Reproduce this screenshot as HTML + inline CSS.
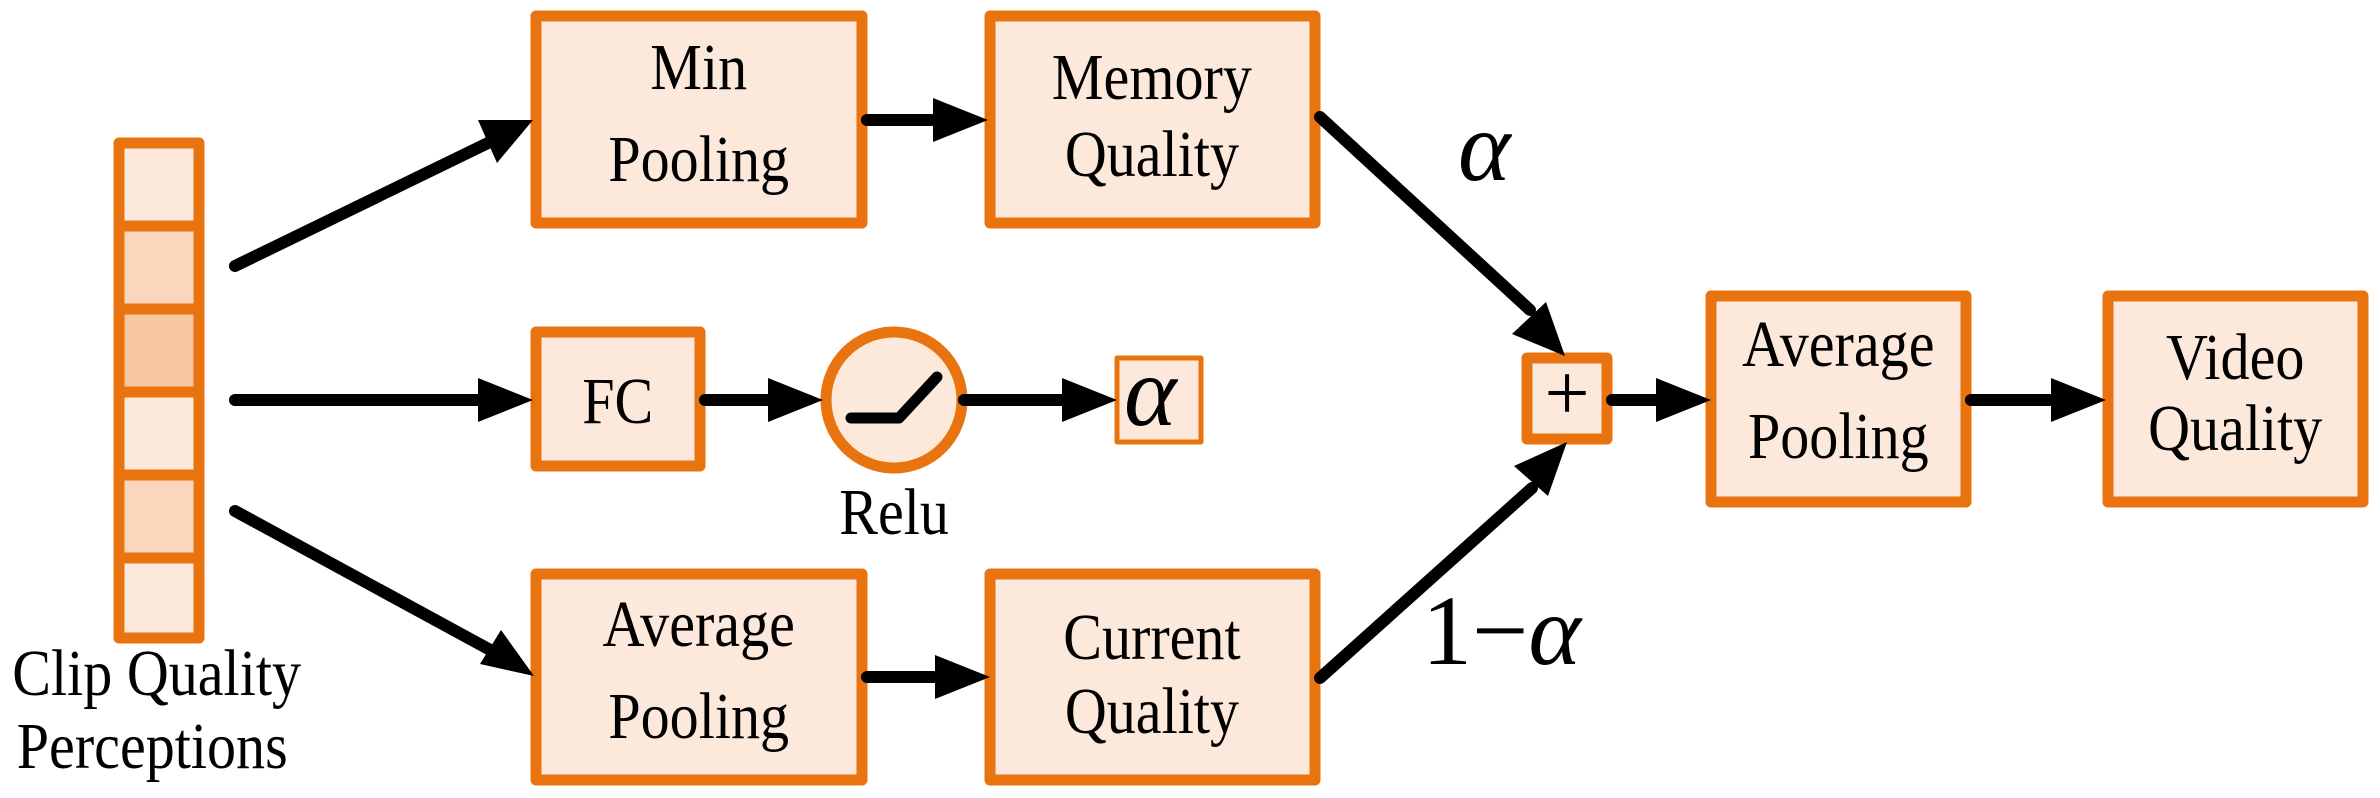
<!DOCTYPE html>
<html><head><meta charset="utf-8"><style>
html,body{margin:0;padding:0;background:#fff;width:2380px;height:798px;overflow:hidden}
svg{display:block}
text{font-family:"Liberation Serif","Times New Roman",serif;fill:#000}
</style></head><body>
<svg width="2380" height="798" viewBox="0 0 2380 798" xmlns="http://www.w3.org/2000/svg">
<g stroke="#E8730F" stroke-width="11" stroke-linejoin="round">
<rect x="119" y="143" width="80" height="83" fill="#FCE9DB"/>
<rect x="119" y="226" width="80" height="83" fill="#FAD7BC"/>
<rect x="119" y="309" width="80" height="83" fill="#F7C59E"/>
<rect x="119" y="392" width="80" height="83" fill="#FCE9DB"/>
<rect x="119" y="475" width="80" height="83" fill="#FAD7BC"/>
<rect x="119" y="558" width="80" height="80" fill="#FCE9DB"/>
<rect x="536" y="16" width="326" height="207" fill="#FCE9DB"/>
<rect x="990" y="16" width="325" height="207" fill="#FCE9DB"/>
<rect x="536" y="332" width="164" height="134" fill="#FCE9DB"/>
<circle cx="894" cy="400" r="68" fill="#FCE9DB"/>
<rect x="536" y="574" width="326" height="206" fill="#FCE9DB"/>
<rect x="990" y="574" width="325" height="206" fill="#FCE9DB"/>
<rect x="1527" y="358" width="80" height="81" fill="#FCE9DB"/>
<rect x="1711" y="296" width="255" height="206" fill="#FCE9DB"/>
<rect x="2108" y="296" width="255" height="206" fill="#FCE9DB"/>
<rect x="1117" y="358" width="84" height="84" fill="#FCE9DB" stroke-width="5"/>
</g>
<polyline points="851,418 899,418 937,377" fill="none" stroke="#000" stroke-width="11" stroke-linecap="round" stroke-linejoin="round"/>
<g stroke="#000" stroke-width="12" stroke-linecap="round" fill="none">
<line x1="235" y1="266" x2="490" y2="142"/>
<line x1="235" y1="400" x2="485" y2="400"/>
<line x1="235" y1="511" x2="494" y2="652"/>
<line x1="867" y1="120" x2="940" y2="120"/>
<line x1="867" y1="677" x2="940" y2="677"/>
<line x1="705" y1="400" x2="775" y2="400"/>
<line x1="964" y1="400" x2="1066" y2="400"/>
<line x1="1320" y1="117" x2="1530" y2="310"/>
<line x1="1320" y1="678" x2="1532" y2="488"/>
<line x1="1612" y1="400" x2="1660" y2="400"/>
<line x1="1971" y1="400" x2="2058" y2="400"/>
</g>
<g fill="#000">
<polygon points="533,120 478,120 497,163"/>
<polygon points="533,400 478,378 478,422"/>
<polygon points="534,676 480,664 501,630"/>
<polygon points="988,120 933,98 933,142"/>
<polygon points="990,677 935,655 935,699"/>
<polygon points="823,400 768,378 768,422"/>
<polygon points="1117,400 1062,378 1062,422"/>
<polygon points="1565,356 1512,334 1546,302"/>
<polygon points="1567,442 1548,496 1514,466"/>
<polygon points="1711,400 1656,378 1656,422"/>
<polygon points="2106,400 2051,378 2051,422"/>
</g>
<g font-size="66" text-anchor="middle" transform="scale(0.88,1)">
<text x="794" y="89">Min</text>
<text x="794" y="181">Pooling</text>
<text x="1309" y="99">Memory</text>
<text x="1309" y="176">Quality</text>
<text x="702" y="423">FC</text>
<text x="1016" y="534">Relu</text>
<text x="794" y="646">Average</text>
<text x="794" y="738">Pooling</text>
<text x="1309" y="659">Current</text>
<text x="1309" y="733">Quality</text>
<text x="2089" y="366">Average</text>
<text x="2089" y="458">Pooling</text>
<text x="2540" y="379">Video</text>
<text x="2540" y="450">Quality</text>
<text x="178" y="695">Clip Quality</text>
<text x="173" y="768">Perceptions</text>
</g>
<text x="1567" y="420" font-size="80" text-anchor="middle">+</text>
<g font-style="italic" font-size="100">
<text x="1124" y="425">α</text>
<text x="1458" y="180">α</text>
<text x="1422" y="664" font-style="normal">1−<tspan font-style="italic">α</tspan></text>
</g>
</svg>
</body></html>
